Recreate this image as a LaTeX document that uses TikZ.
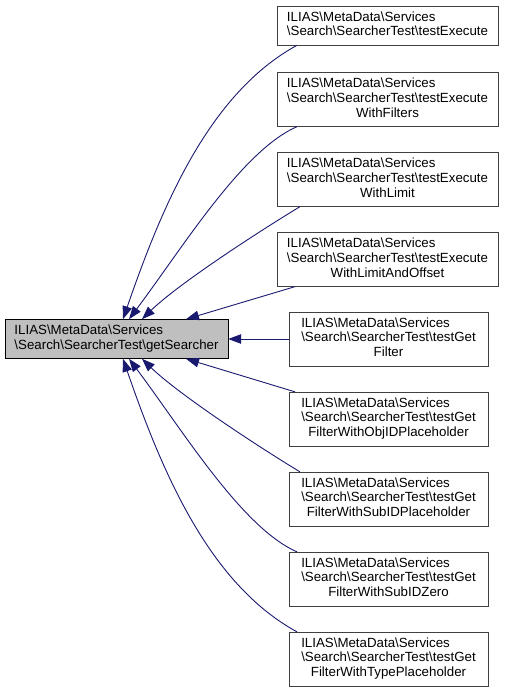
\documentclass[tikz,border=0pt]{standalone}
\usepackage{fontspec}
\setmainfont{Liberation Sans}
\usetikzlibrary{arrows.meta}
\definecolor{grey25}{HTML}{404040}
\definecolor{grey75}{HTML}{BFBFBF}
\definecolor{midblue}{HTML}{191970}
\newcommand{\bksl}{\textbackslash}
\newcommand{\twolines}[2]{\begin{tabular}{@{}l@{}}#1\\#2\end{tabular}}
\newcommand{\threelines}[3]{\begin{tabular}{@{}l@{}}#1\\#2\\\multicolumn{1}{@{}c@{}}{#3}\end{tabular}}

\begin{document}
\begin{tikzpicture}[x=1pt,y=-1pt,
    fnbox/.style={draw=grey25,fill=white,inner xsep=5pt,inner ysep=4.9pt,minimum width=199pt,font=\fontsize{13.3}{14.7}\selectfont},
    widebox/.style={fnbox,minimum width=221pt},
    rootbox/.style={fnbox,draw=black,fill=grey75,minimum width=223pt},
    calledge/.style={midblue,line width=0.9pt,-{Triangle[length=13pt,width=9.5pt]}}]
          \useasboundingbox (0,0) rectangle (504,693);
          \node[rootbox] (getsearcher) at (116.5,339) {\twolines{ILIAS\bksl MetaData\bksl Services}{\bksl Search\bksl SearcherTest\bksl getSearcher}};
          \node[widebox] (execute) at (387.5,25.5) {\twolines{ILIAS\bksl MetaData\bksl Services}{\bksl Search\bksl SearcherTest\bksl testExecute}};
          \node[widebox] (filters) at (387.5,99.5) {\threelines{ILIAS\bksl MetaData\bksl Services}{\bksl Search\bksl SearcherTest\bksl testExecute}{WithFilters}};
          \node[widebox] (limit) at (387.5,179.5) {\threelines{ILIAS\bksl MetaData\bksl Services}{\bksl Search\bksl SearcherTest\bksl testExecute}{WithLimit}};
          \node[widebox] (offset) at (387.5,259.5) {\threelines{ILIAS\bksl MetaData\bksl Services}{\bksl Search\bksl SearcherTest\bksl testExecute}{WithLimitAndOffset}};
          \node[fnbox] (getfilter) at (388.5,339) {\threelines{ILIAS\bksl MetaData\bksl Services}{\bksl Search\bksl SearcherTest\bksl testGet}{Filter}};
          \node[fnbox] (objid) at (388.5,419) {\threelines{ILIAS\bksl MetaData\bksl Services}{\bksl Search\bksl SearcherTest\bksl testGet}{FilterWithObjIDPlaceholder}};
          \node[fnbox] (subid) at (388.5,499) {\threelines{ILIAS\bksl MetaData\bksl Services}{\bksl Search\bksl SearcherTest\bksl testGet}{FilterWithSubIDPlaceholder}};
          \node[fnbox] (subidzero) at (388.5,579) {\threelines{ILIAS\bksl MetaData\bksl Services}{\bksl Search\bksl SearcherTest\bksl testGet}{FilterWithSubIDZero}};
          \node[fnbox] (type) at (388.5,659) {\threelines{ILIAS\bksl MetaData\bksl Services}{\bksl Search\bksl SearcherTest\bksl testGet}{FilterWithTypePlaceholder}};
          \draw[calledge] ([xshift=-90.5pt]execute.south) .. controls +(-88,48) and +(39,-113) .. ([xshift=6.5pt]getsearcher.north);
          \draw[calledge] ([xshift=-90.5pt]filters.south) .. controls +(-55,24) and +(54,-72) .. ([xshift=12.5pt]getsearcher.north);
          \draw[calledge] ([xshift=-87.5pt]limit.south) .. controls +(-43,26) and +(36,-35) .. ([xshift=25.5pt]getsearcher.north);
          \draw[calledge] ([xshift=-92.5pt]offset.south) -- ([xshift=69.5pt]getsearcher.north);
          \draw[calledge] (getfilter.west) -- (getsearcher.east);
          \draw[calledge] ([xshift=-93.5pt]objid.north) -- ([xshift=69.5pt]getsearcher.south);
          \draw[calledge] ([xshift=-88.5pt]subid.north) .. controls +(-43,-26) and +(36,35) .. ([xshift=25.5pt]getsearcher.south);
          \draw[calledge] ([xshift=-91.5pt]subidzero.north) .. controls +(-55,-24) and +(54,72) .. ([xshift=12.5pt]getsearcher.south);
          \draw[calledge] ([xshift=-91.5pt]type.north) .. controls +(-88,-48) and +(39,113) .. ([xshift=6.5pt]getsearcher.south);
        \end{tikzpicture}
\end{document}
